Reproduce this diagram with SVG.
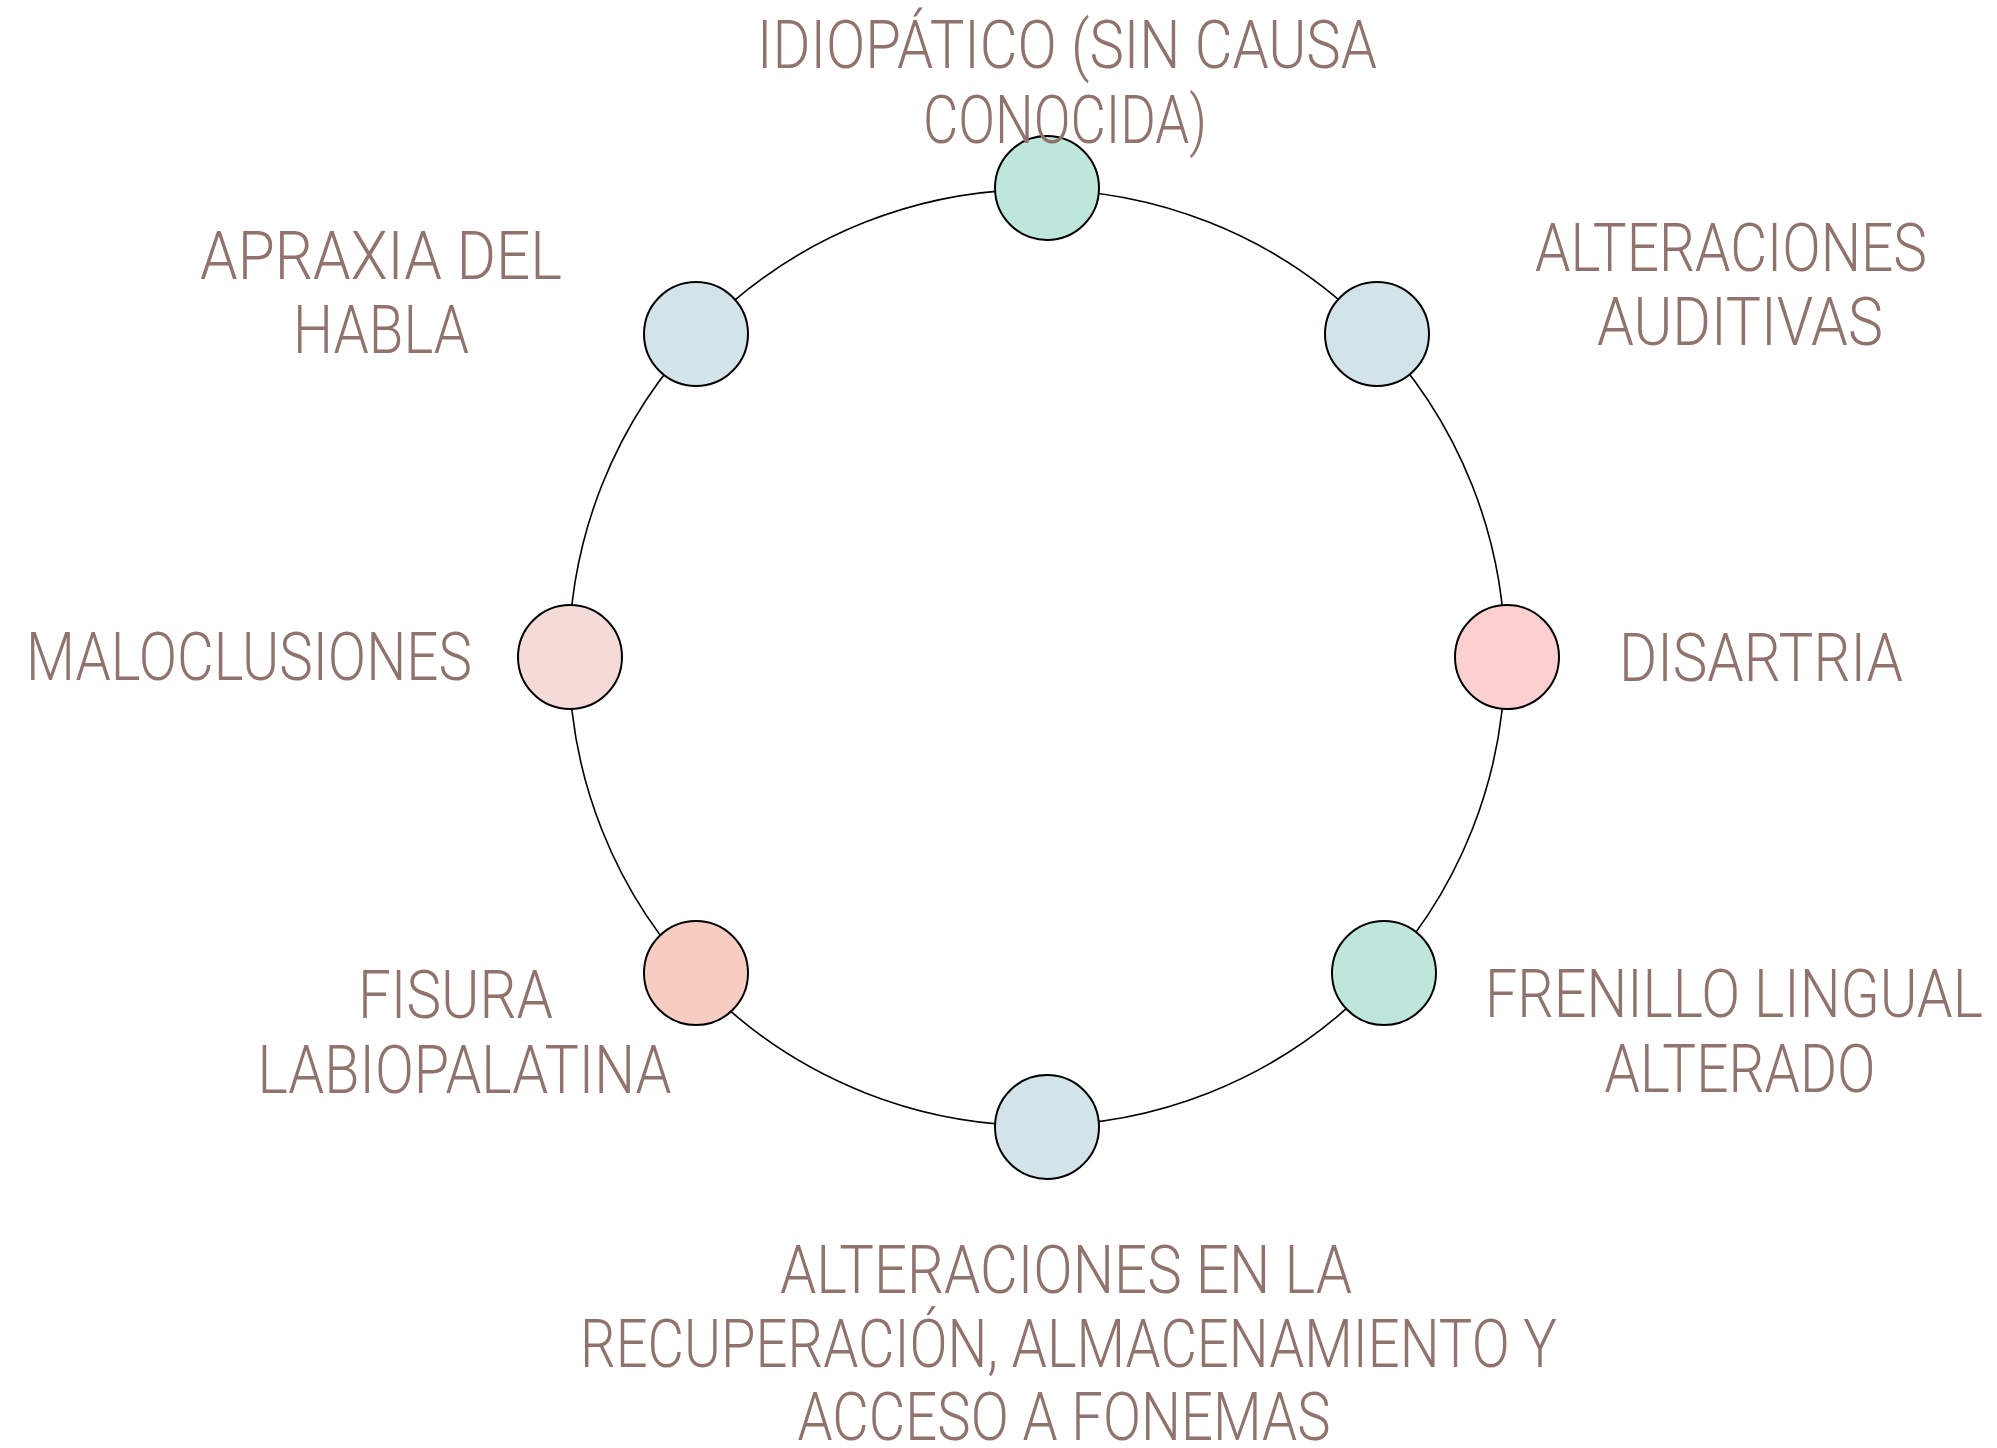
<svg xmlns="http://www.w3.org/2000/svg" width="1997" height="1448" viewBox="0 0 1997 1448">
<style>
.lbl{font-family:Roboto,"Liberation Sans Narrow","DejaVu Sans Condensed",sans-serif;font-weight:300;font-size:66px;fill:#90736c;text-anchor:middle}
.node{stroke:#000;stroke-width:2}
.ring{fill:none;stroke:#000;stroke-width:1.6}
</style>
<rect width="1997" height="1448" fill="#fff"/>
<g id="connectors">
<circle class="ring" cx="1037" cy="657.5" r="468"/>
</g>
<g id="n-idiopatico">
<circle class="node" cx="1047" cy="188" r="52" fill="#bee6dc"/>
<text class="lbl" x="1067" y="68" textLength="620" lengthAdjust="spacingAndGlyphs">IDIOPÁTICO (SIN CAUSA</text>
<text class="lbl" x="1065" y="143" textLength="284" lengthAdjust="spacingAndGlyphs">CONOCIDA)</text>
</g>
<g id="n-apraxia">
<circle class="node" cx="696" cy="334" r="52" fill="#d3e3ea"/>
<text class="lbl" x="381" y="279" textLength="362" lengthAdjust="spacingAndGlyphs">APRAXIA DEL</text>
<text class="lbl" x="381" y="353" textLength="176" lengthAdjust="spacingAndGlyphs">HABLA</text>
</g>
<g id="n-auditivas">
<circle class="node" cx="1377" cy="334" r="52" fill="#d3e3ea"/>
<text class="lbl" x="1731" y="271" textLength="392" lengthAdjust="spacingAndGlyphs">ALTERACIONES</text>
<text class="lbl" x="1740" y="345" textLength="286" lengthAdjust="spacingAndGlyphs">AUDITIVAS</text>
</g>
<g id="n-maloclusiones">
<circle class="node" cx="570" cy="657" r="52" fill="#f5dbd8"/>
<text class="lbl" x="249" y="680" textLength="446" lengthAdjust="spacingAndGlyphs">MALOCLUSIONES</text>
</g>
<g id="n-disartria">
<circle class="node" cx="1507" cy="657" r="52" fill="#fdd0d0"/>
<text class="lbl" x="1761" y="681" textLength="284" lengthAdjust="spacingAndGlyphs">DISARTRIA</text>
</g>
<g id="n-fisura">
<circle class="node" cx="696" cy="973" r="52" fill="#f6cdc0"/>
<text class="lbl" x="455.5" y="1018" textLength="195" lengthAdjust="spacingAndGlyphs">FISURA</text>
<text class="lbl" x="464.5" y="1093" textLength="414" lengthAdjust="spacingAndGlyphs">LABIOPALATINA</text>
</g>
<g id="n-frenillo">
<circle class="node" cx="1384" cy="973" r="52" fill="#bee6dc"/>
<text class="lbl" x="1734" y="1017" textLength="498" lengthAdjust="spacingAndGlyphs">FRENILLO LINGUAL</text>
<text class="lbl" x="1740" y="1092" textLength="271" lengthAdjust="spacingAndGlyphs">ALTERADO</text>
</g>
<g id="n-fonemas">
<circle class="node" cx="1047" cy="1127" r="52" fill="#d3e3ea"/>
<text class="lbl" x="1066" y="1293" textLength="572" lengthAdjust="spacingAndGlyphs">ALTERACIONES EN LA</text>
<text class="lbl" x="1068.5" y="1367" textLength="977" lengthAdjust="spacingAndGlyphs">RECUPERACIÓN, ALMACENAMIENTO Y</text>
<text class="lbl" x="1064" y="1440" textLength="533" lengthAdjust="spacingAndGlyphs">ACCESO A FONEMAS</text>
</g>
</svg>
